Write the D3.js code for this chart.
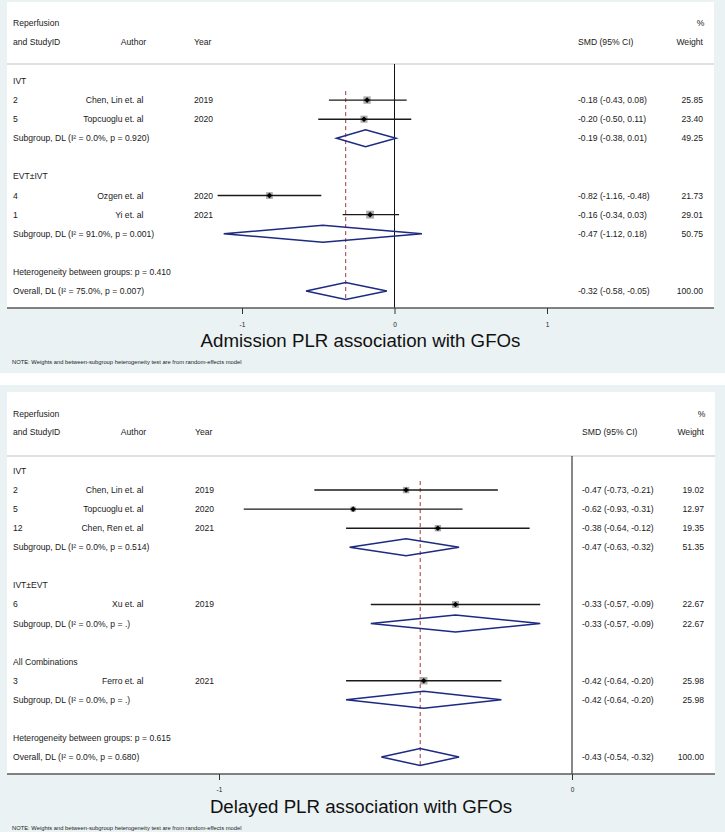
<!DOCTYPE html>
<html><head><meta charset="utf-8">
<script src="https://cdn.jsdelivr.net/npm/d3@7"></script>
<style>
html,body{margin:0;padding:0;background:#fff;}
svg{display:block;font-family:"Liberation Sans", Arial, Helvetica, sans-serif;}
</style></head><body>
<svg id="chart" width="725" height="833"></svg>
<script>
// ---------------- Panel 1: Admission PLR ----------------
const adm_title = "Admission PLR association with GFOs";
const adm_groups = ["IVT", "EVT±IVT"];
const adm_studyIds = ["2", "5", "4", "1"];
const adm_authors = ["Chen, Lin et. al", "Topcuoglu et. al", "Ozgen et. al", "Yi et. al"];
const adm_years = ["2019", "2020", "2020", "2021"];
const adm_studyGroup = [0, 0, 1, 1];
const adm_smd = [-0.18, -0.20, -0.82, -0.16];
const adm_lo = [-0.43, -0.50, -1.16, -0.34];
const adm_hi = [0.08, 0.11, -0.48, 0.03];
const adm_weight = [25.85, 23.40, 21.73, 29.01];
const adm_subLabels = ["Subgroup, DL (I² = 0.0%, p = 0.920)", "Subgroup, DL (I² = 91.0%, p = 0.001)"];
const adm_subSmd = [-0.19, -0.47];
const adm_subLo = [-0.38, -1.12];
const adm_subHi = [0.01, 0.18];
const adm_subWeight = [49.25, 50.75];
const adm_het = "Heterogeneity between groups: p = 0.410";
const adm_overallLabel = "Overall, DL (I² = 75.0%, p = 0.007)";
const adm_overall = [-0.32, -0.58, -0.05];
const adm_overallWeight = 100.00;
const adm_ticks = [-1, 0, 1];

// ---------------- Panel 2: Delayed PLR ----------------
const del_title = "Delayed PLR association with GFOs";
const del_groups = ["IVT", "IVT±EVT", "All Combinations"];
const del_studyIds = ["2", "5", "12", "6", "3"];
const del_authors = ["Chen, Lin et. al", "Topcuoglu et. al", "Chen, Ren et. al", "Xu et. al", "Ferro et. al"];
const del_years = ["2019", "2020", "2021", "2019", "2021"];
const del_studyGroup = [0, 0, 0, 1, 2];
const del_smd = [-0.47, -0.62, -0.38, -0.33, -0.42];
const del_lo = [-0.73, -0.93, -0.64, -0.57, -0.64];
const del_hi = [-0.21, -0.31, -0.12, -0.09, -0.20];
const del_weight = [19.02, 12.97, 19.35, 22.67, 25.98];
const del_subLabels = ["Subgroup, DL (I² = 0.0%, p = 0.514)", "Subgroup, DL (I² = 0.0%, p = .)", "Subgroup, DL (I² = 0.0%, p = .)"];
const del_subSmd = [-0.47, -0.33, -0.42];
const del_subLo = [-0.63, -0.57, -0.64];
const del_subHi = [-0.32, -0.09, -0.20];
const del_subWeight = [51.35, 22.67, 25.98];
const del_het = "Heterogeneity between groups: p = 0.615";
const del_overallLabel = "Overall, DL (I² = 0.0%, p = 0.680)";
const del_overall = [-0.43, -0.54, -0.32];
const del_overallWeight = 100.00;
const del_ticks = [-1, 0];

const noteText = "NOTE: Weights and between-subgroup heterogeneity test are from random-effects model";

// ---------------- drawing ----------------
const svg = d3.select("#chart");
const fmt = v => v.toFixed(2);
const ci = (e, l, h) => `${fmt(e)} (${fmt(l)}, ${fmt(h)})`;

function drawPanel(P, L) {
  const g = svg.append("g");
  // backgrounds
  g.append("rect").attr("x", 0).attr("y", L.bgTop).attr("width", 725).attr("height", L.bgBottom - L.bgTop).attr("fill", "#eaf2f3");
  g.append("rect").attr("x", L.plotLeft).attr("y", L.plotTop).attr("width", L.plotRight - L.plotLeft).attr("height", L.axisY - L.plotTop).attr("fill", "#fff");

  // rows
  const rows = [];
  P.groups.forEach((gr, gi) => {
    rows.push({type: "group", label: gr});
    P.studyGroup.forEach((sg, i) => { if (sg === gi) rows.push({type: "study", i}); });
    rows.push({type: "sub", gi});
    rows.push({type: "blank"});
  });
  rows.push({type: "het"});
  rows.push({type: "overall"});

  const y = d3.scaleLinear().domain([0, rows.length - 1]).range([L.rowFirst, L.rowLast]);
  const x = d3.scaleLinear().domain(L.xDomain).range(L.xRange);
  const fs = 8.6;
  const txt = (xx, yy, s, anchor, size, fill) => g.append("text").attr("x", xx).attr("y", yy).attr("dy", "0.35em")
      .attr("text-anchor", anchor || "start").attr("font-size", size || fs).attr("fill", fill || "#1a1a1a").text(s);

  // header
  txt(L.colId, L.headerY1, "Reperfusion");
  txt(L.colId, L.headerY2, "and StudyID");
  txt(L.colAuthorHead, L.headerY2, "Author", "middle");
  txt(L.colYear, L.headerY2, "Year");
  txt(L.colSmd, L.headerY2, "SMD (95% CI)");
  txt(L.colWeight + 1.5, L.headerY1, "%", "end");
  txt(L.colWeight, L.headerY2, "Weight", "end");

  // separator
  g.append("line").attr("x1", L.plotLeft).attr("x2", L.plotRight).attr("y1", L.sepY).attr("y2", L.sepY)
    .attr("stroke", "#d6d6d6").attr("stroke-width", 1.3);

  // zero line
  g.append("line").attr("x1", x(0)).attr("x2", x(0)).attr("y1", L.sepY).attr("y2", L.axisY)
    .attr("stroke", "#111").attr("stroke-width", 1);

  // overall dashed line
  const firstStudyRow = rows.findIndex(r => r.type === "study");
  g.append("line").attr("x1", x(P.overall[0])).attr("x2", x(P.overall[0]))
    .attr("y1", y(firstStudyRow) - 9).attr("y2", y(rows.length - 1) + 9)
    .attr("stroke", "#a8323c").attr("stroke-width", 1).attr("stroke-dasharray", "4,3");

  const diamond = (yy, e, lo, hi) => g.append("path")
    .attr("d", `M${x(lo)},${yy} L${x(e)},${yy - 8.5} L${x(hi)},${yy} L${x(e)},${yy + 8.5} Z`)
    .attr("fill", "none").attr("stroke", "#1c2a82").attr("stroke-width", 1.5);

  rows.forEach((r, k) => {
    const yy = y(k);
    if (r.type === "group") {
      txt(L.colId, yy, r.label);
    } else if (r.type === "study") {
      const i = r.i;
      txt(L.colId, yy, P.studyIds[i]);
      txt(L.colAuthor, yy, P.authors[i], "end");
      txt(L.colYear, yy, P.years[i]);
      txt(L.colSmd, yy, ci(P.smd[i], P.lo[i], P.hi[i]));
      txt(L.colWeight, yy, fmt(P.weight[i]), "end");
      const side = 1.45 * Math.sqrt(P.weight[i]);
      g.append("rect").attr("x", x(P.smd[i]) - side / 2).attr("y", yy - side / 2)
        .attr("width", side).attr("height", side).attr("fill", "#aaaaaa");
      g.append("line").attr("x1", x(P.lo[i])).attr("x2", x(P.hi[i])).attr("y1", yy).attr("y2", yy)
        .attr("stroke", "#1a1a1a").attr("stroke-width", 1.4);
      const cx = x(P.smd[i]), d = 2.8;
      g.append("path").attr("d", `M${cx - d},${yy} L${cx},${yy - d} L${cx + d},${yy} L${cx},${yy + d} Z`).attr("fill", "#000");
    } else if (r.type === "sub") {
      const gi = r.gi;
      txt(L.colId, yy, P.subLabels[gi]);
      txt(L.colSmd, yy, ci(P.subSmd[gi], P.subLo[gi], P.subHi[gi]));
      txt(L.colWeight, yy, fmt(P.subWeight[gi]), "end");
      diamond(yy, P.subSmd[gi], P.subLo[gi], P.subHi[gi]);
    } else if (r.type === "het") {
      txt(L.colId, yy, P.het);
    } else if (r.type === "overall") {
      txt(L.colId, yy, P.overallLabel);
      txt(L.colSmd, yy, ci(P.overall[0], P.overall[1], P.overall[2]));
      txt(L.colWeight, yy, fmt(P.overallWeight), "end");
      diamond(yy, P.overall[0], P.overall[1], P.overall[2]);
    }
  });

  // x axis
  g.append("line").attr("x1", L.plotLeft).attr("x2", L.plotRight).attr("y1", L.axisY).attr("y2", L.axisY)
    .attr("stroke", "#5a5a5a").attr("stroke-width", 1.6);
  const axis = d3.axisBottom(x).tickValues(P.ticks).tickSize(6).tickPadding(2).tickFormat(d3.format("d"));
  const ag = g.append("g").attr("transform", `translate(0,${L.axisY})`).call(axis);
  ag.select(".domain").remove();
  ag.selectAll(".tick line").attr("stroke", "#333").attr("stroke-width", 1);
  ag.selectAll(".tick text").attr("font-size", 6.5).attr("fill", "#222")
    .attr("font-family", "Liberation Sans, Arial, sans-serif")
    .text(d => String(d).replace("\u2212", "-"))
    .attr("y", L.tickLabelY - L.axisY).attr("dy", "0.35em");

  // title & note
  g.append("text").attr("x", (L.plotLeft + L.plotRight) / 2).attr("y", L.titleY).attr("text-anchor", "middle")
    .attr("font-size", 18.7).attr("fill", "#111").text(P.title);
  g.append("text").attr("x", 12).attr("y", L.noteY).attr("dy", "0.35em").attr("font-size", 5.8).attr("fill", "#222").text(noteText);
}

const P1 = {title: adm_title, groups: adm_groups, studyIds: adm_studyIds, authors: adm_authors, years: adm_years,
  studyGroup: adm_studyGroup, smd: adm_smd, lo: adm_lo, hi: adm_hi, weight: adm_weight,
  subLabels: adm_subLabels, subSmd: adm_subSmd, subLo: adm_subLo, subHi: adm_subHi, subWeight: adm_subWeight,
  het: adm_het, overallLabel: adm_overallLabel, overall: adm_overall, overallWeight: adm_overallWeight, ticks: adm_ticks};
const P2 = {title: del_title, groups: del_groups, studyIds: del_studyIds, authors: del_authors, years: del_years,
  studyGroup: del_studyGroup, smd: del_smd, lo: del_lo, hi: del_hi, weight: del_weight,
  subLabels: del_subLabels, subSmd: del_subSmd, subLo: del_subLo, subHi: del_subHi, subWeight: del_subWeight,
  het: del_het, overallLabel: del_overallLabel, overall: del_overall, overallWeight: del_overallWeight, ticks: del_ticks};

drawPanel(P1, {bgTop: 0, bgBottom: 373, plotTop: 2, plotLeft: 7, plotRight: 714, axisY: 308,
  headerY1: 23.3, headerY2: 41.7, sepY: 64, rowFirst: 81, rowLast: 291,
  xDomain: [-1, 1], xRange: [242, 547], colId: 13, colAuthor: 143.5, colAuthorHead: 133.5, colYear: 194,
  colSmd: 578, colWeight: 703, titleY: 346.7, noteY: 362, tickLabelY: 325});
drawPanel(P2, {bgTop: 385, bgBottom: 832, plotTop: 392, plotLeft: 7, plotRight: 715, axisY: 774,
  headerY1: 414.3, headerY2: 432.3, sepY: 456, rowFirst: 471, rowLast: 757,
  xDomain: [-1, 0], xRange: [219, 572], colId: 13, colAuthor: 143.5, colAuthorHead: 133.5, colYear: 195,
  colSmd: 582, colWeight: 704, titleY: 813.3, noteY: 827.5, tickLabelY: 790});
</script></body></html>
